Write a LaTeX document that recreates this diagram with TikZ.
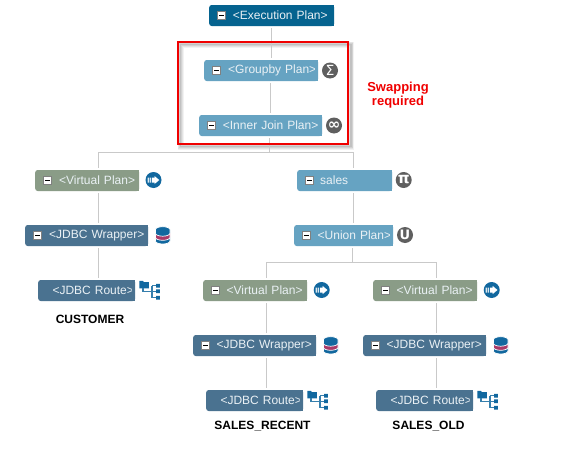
\documentclass[tikz,border=0pt]{standalone}
\usepackage{fontspec}
\setmainfont{Liberation Sans}
\newfontfamily\symfont{DejaVu Sans}
\definecolor{cexec}{HTML}{05638F}
\definecolor{cplan}{HTML}{66A3C2}
\definecolor{cvirt}{HTML}{8A9C87}
\definecolor{cwrap}{HTML}{4A7290}
\definecolor{ctext}{HTML}{EAF1F5}
\definecolor{cline}{HTML}{C9C9C9}
\definecolor{cicon}{HTML}{5F5F5F}
\definecolor{cblue}{HTML}{12689F}
\definecolor{cmaroon}{HTML}{A83A68}
\definecolor{cred}{HTML}{F00000}
\tikzset{
  conn/.style={draw=cline,line width=1pt},
  planbox/.style={anchor=west,inner sep=0pt,minimum height=21pt,rounded corners=2.5pt,text=ctext,align=left,font=\fontsize{12}{14}\selectfont},
  minusbox/.style={draw=black!50,fill=white,line width=.9pt,minimum size=8pt,inner sep=0pt},
  opicon/.style={circle,fill=cicon,text=white,minimum size=16pt,inner sep=0pt,font=\symfont\fontsize{14}{14}\selectfont},
  tablelabel/.style={font=\bfseries\fontsize{12}{14}\selectfont,text=black},
  notelabel/.style={font=\bfseries\fontsize{13}{14}\selectfont,text=cred,align=center},
}
% name, x1, x2, ytop, colour, pad, text
\newcommand{\planbare}[7]{%
  \pgfmathsetmacro{\wbox}{#3-#2}%
  \node[planbox,fill=#5,text width=\wbox pt] (#1) at (#2,#4+10.5) {\hspace*{#6pt}#7};
  \fill[#5] (#3-3,#4) rectangle (#3,#4+21);
}
\newcommand{\planbox}[7]{%
  \planbare{#1}{#2}{#3}{#4}{#5}{#6}{#7}
  \node[minusbox] (#1-m) at (#2+12.5,#4+10.5) {};
  \fill[black] (#2+10,#4+9.8) rectangle (#2+15,#4+11.2);
}
\newcommand{\virticon}[3]{%
  \node[circle,fill=cblue,minimum size=16pt,inner sep=0pt] (#1) at (#2,#3) {};
  \fill[white!85!cblue] (#2-6,#3-2.5) rectangle (#2-4.7,#3+2.5)
    (#2-3.8,#3-2.5) rectangle (#2-2.5,#3+2.5);
  \fill[white] (#2-1.6,#3-2.5) -- (#2+1,#3-2.5) -- (#2+1,#3-4) -- (#2+5.8,#3) -- (#2+1,#3+4) -- (#2+1,#3+2.5) -- (#2-1.6,#3+2.5) -- cycle;
}
\newcommand{\dbbody}[4]{% cx, ytop, ybot, colour
  \path[fill=#4,draw=white,line width=.7pt] (#1-7.3,#2) -- (#1-7.3,#3)
    arc[start angle=180,end angle=360,x radius=7.3pt,y radius=3pt]
    -- (#1+7.3,#2)
    arc[start angle=0,end angle=180,x radius=7.3pt,y radius=3pt] -- cycle;
}
\newcommand{\dbicon}[2]{%
  \dbbody{#1}{#2+2}{#2+6}{cblue}
  \dbbody{#1}{#2-2}{#2+2.3}{cmaroon}
  \dbbody{#1}{#2-5.3}{#2-1.8}{cblue}
}
\newcommand{\routeicon}[2]{%
  \fill[cblue] (#1+.3,#2+2.2) -- (#1+.3,#2+.8) -- (#1+4,#2+.8) -- (#1+4.8,#2+2.2) -- (#1+9.8,#2+2.2) -- (#1+9.8,#2+8.3) -- (#1+.3,#2+8.3) -- cycle;
  \draw[cblue!85,line width=1.5pt] (#1+4,#2+8) -- (#1+4,#2+11.3) -- (#1+13,#2+11.3)
    (#1+13,#2+5.7) -- (#1+13,#2+17.7)
    (#1+13,#2+5.7) -- (#1+17.5,#2+5.7) (#1+13,#2+17.7) -- (#1+17.5,#2+17.7) (#1+13,#2+11.3) -- (#1+17.5,#2+11.3);
  \fill[cblue] (#1+17,#2+3.9) rectangle (#1+20.8,#2+7.7)
    (#1+17,#2+9.4) rectangle (#1+20.8,#2+13.2)
    (#1+17,#2+15.8) rectangle (#1+20.8,#2+19.6);
}
\begin{document}
\begin{tikzpicture}[x=1pt,y=-1pt]
\useasboundingbox (0,0) rectangle (573,455);
\fill[white] (0,0) rectangle (573,455);
% shadow of the highlight frame
\foreach \lw/\op in {6/.05,4.5/.06,3/.07,1.5/.08}
  \draw[black,line width=\lw pt,opacity=\op] (180.7,44.7) rectangle (351,146.7);
% anchors for connector columns
\coordinate (tx0) at (271.3,0);
\coordinate (tx1) at (270.3,0);
\coordinate (tx2) at (269.3,0);
\coordinate (ax) at (98.3,0);
\coordinate (bx) at (353.3,0);
\coordinate (ux) at (352.3,0);
\coordinate (cx) at (266.3,0);
\coordinate (dx) at (436.3,0);
\coordinate (busa) at (0,152.3);
\coordinate (busb) at (0,262.3);
% boxes
\planbox{exec}{209}{334}{5}{cexec}{23.7}{<Execution Plan>}
\planbox{group}{204}{318}{60}{cplan}{24}{<Groupby Plan>}
\planbox{inner}{199}{322}{115}{cplan}{23.7}{<Inner Join Plan>}
\planbox{va}{35}{139}{170}{cvirt}{24}{<Virtual Plan>}
\planbox{wa}{25}{148}{225}{cwrap}{24}{<JDBC Wrapper>}
\planbare{ra}{38}{135}{280}{cwrap}{14.3}{<JDBC Route>}
\planbox{sales}{297}{392}{170}{cplan}{23}{sales}
\planbox{union}{294}{393}{225}{cplan}{23.5}{<Union Plan>}
\planbox{vb}{203}{307}{280}{cvirt}{23.5}{<Virtual Plan>}
\planbox{wb}{193}{316}{335}{cwrap}{23.5}{<JDBC Wrapper>}
\planbare{rb}{206}{303}{390}{cwrap}{14.3}{<JDBC Route>}
\planbox{vc}{373}{477}{280}{cvirt}{23.5}{<Virtual Plan>}
\planbox{wc}{363}{486}{335}{cwrap}{23.5}{<JDBC Wrapper>}
\planbare{rc}{376}{473}{390}{cwrap}{14.3}{<JDBC Route>}
% connectors
\begin{scope}[every path/.style={conn,shorten <=2pt,shorten >=2pt}]
\draw (exec.south -| tx0) -- (group.north -| tx0);
\draw (group.south -| tx1) -- (inner.north -| tx1);
\draw[shorten >=0pt] (inner.south -| tx2) -- (tx2 |- busa);
\draw (va.north -| ax) -- (ax |- busa) -- (bx |- busa) -- (sales.north -| bx);
\draw (va.south -| ax) -- (wa.north -| ax);
\draw (wa.south -| ax) -- (ra.north -| ax);
\draw (sales.south -| bx) -- (union.north -| bx);
\draw[shorten >=0pt] (union.south -| ux) -- (ux |- busb);
\draw (vb.north -| cx) -- (cx |- busb) -- (dx |- busb) -- (vc.north -| dx);
\draw (vb.south -| cx) -- (wb.north -| cx);
\draw (wb.south -| cx) -- (rb.north -| cx);
\draw (vc.south -| dx) -- (wc.north -| dx);
\draw (wc.south -| dx) -- (rc.north -| dx);
\end{scope}
% highlight frame
\draw[cred,line width=2pt] (177.7,41.7) rectangle (348,143.7);
% operator icons
\node[opicon] (isum) at (330,70.5) {Σ};
\node[opicon,font=\symfont\bfseries\fontsize{15}{15}\selectfont] (iinf) at (334,125.5) {∞};
\node[opicon,font=\symfont\bfseries\fontsize{15}{15}\selectfont] (ipi) at (403.7,180) {π};
\node[opicon,font=\symfont\bfseries\fontsize{13}{13}\selectfont] (iu) at (405,235) {U};
\virticon{iva}{153.5}{180}
\virticon{ivb}{321.7}{290}
\virticon{ivc}{491.7}{290}
\dbicon{162.7}{235}
\dbicon{330.7}{345}
\dbicon{500.7}{345}
\routeicon{139}{280}
\routeicon{307}{390}
\routeicon{477}{390}
% labels
\node[tablelabel] (lcust) at (90,319.5) {CUSTOMER};
\node[tablelabel] (lrec) at (262.5,426.5) {SALES\_RECENT};
\node[tablelabel] (lold) at (428.5,426.5) {SALES\_OLD};
\node[notelabel] (note) at (398,95) {Swapping\\required};
\end{tikzpicture}
\end{document}
